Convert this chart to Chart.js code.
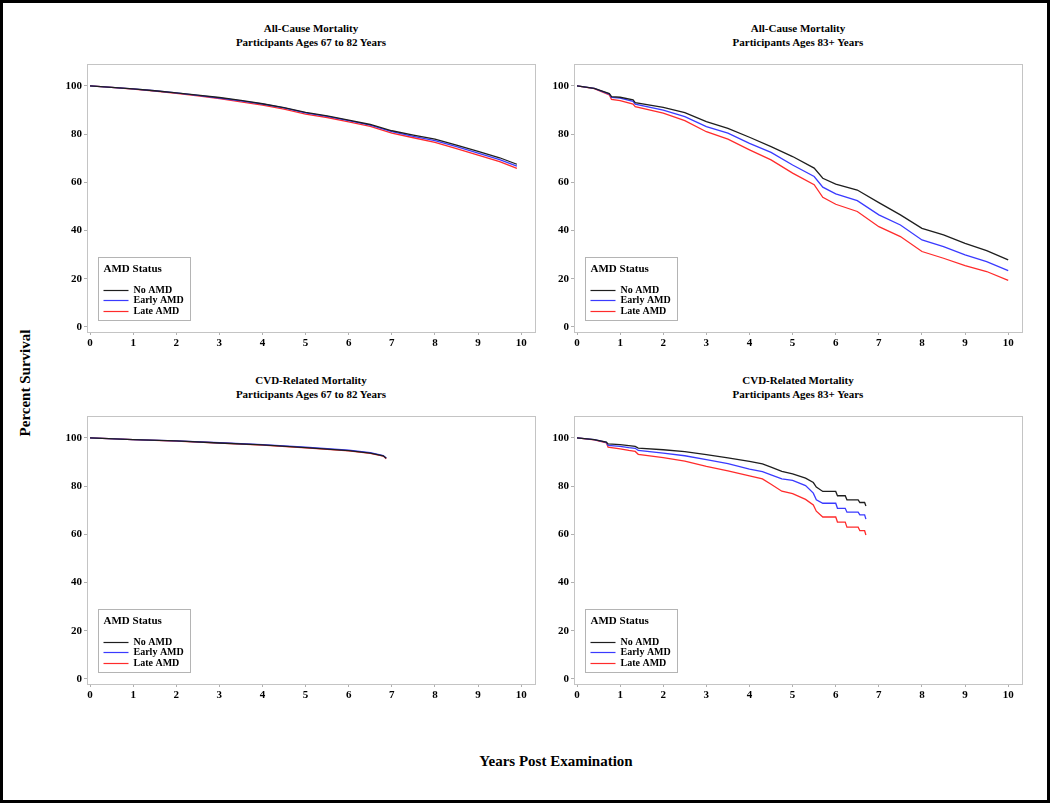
<!DOCTYPE html>
<html>
<head>
<meta charset="utf-8">
<script src="https://cdn.jsdelivr.net/npm/chart.js@4.4.1/dist/chart.umd.min.js"></script>
<style>
	html, body { margin: 0; padding: 0; background: #fff; }
	body { width: 1050px; height: 803px; position: relative; overflow: hidden; font-family: "Liberation Serif", "DejaVu Serif", serif; }
	.frame { position: absolute; left: 0; top: 0; width: 1050px; height: 803px; box-sizing: border-box; border: 3px solid #000; }
	.panel { position: absolute; }
	.ptitle { position: absolute; width: 448px; text-align: center; font-weight: bold; font-size: 11px; line-height: 14px; color: #000; }
	.ylab { position: absolute; left: 25px; top: 383px; transform: translate(-50%, -50%) rotate(-90deg); font-weight: bold; font-size: 15px; white-space: nowrap; }
	.xlab { position: absolute; left: 556px; top: 761px; transform: translate(-50%, -50%); font-weight: bold; font-size: 15px; white-space: nowrap; }
</style>
</head>
<body>
<div class="frame"></div>

<div class="ptitle" style="left:87px; top:21px;">All-Cause Mortality<br>Participants Ages 67 to 82 Years</div>
<div class="ptitle" style="left:574px; top:21px;">All-Cause Mortality<br>Participants Ages 83+ Years</div>
<div class="ptitle" style="left:87px; top:373px;">CVD-Related Mortality<br>Participants Ages 67 to 82 Years</div>
<div class="ptitle" style="left:574px; top:373px;">CVD-Related Mortality<br>Participants Ages 83+ Years</div>

<canvas id="c_ac_young" class="panel" width="505" height="300" style="left:40px; top:55px;"></canvas>
<canvas id="c_ac_old" class="panel" width="505" height="300" style="left:527px; top:55px;"></canvas>
<canvas id="c_cvd_young" class="panel" width="505" height="300" style="left:40px; top:407px;"></canvas>
<canvas id="c_cvd_old" class="panel" width="505" height="300" style="left:527px; top:407px;"></canvas>

<div class="ylab">Percent Survival</div>
<div class="xlab">Years Post Examination</div>

<script>
// Tick labels
const xTicks = [0, 1, 2, 3, 4, 5, 6, 7, 8, 9, 10];
const yTicks = [0, 20, 40, 60, 80, 100];

// Legend groups
const groups = ['No AMD', 'Early AMD', 'Late AMD'];
const groupColors = ['#1e1e1e', '#3a3aff', '#ff2b2b'];

// All-cause mortality, ages 67 to 82 (years, % survival)
const acYoungT     = [0, 0.5, 1, 1.5, 2, 2.5, 3, 3.5, 4, 4.5, 5, 5.5, 6, 6.5, 7, 7.5, 8, 8.5, 9, 9.5, 9.9];
const acYoungNo    = [100, 99.4, 98.8, 98.0, 97.1, 96.2, 95.2, 94.0, 92.6, 91.0, 89.0, 87.6, 85.8, 84.0, 81.4, 79.6, 77.9, 75.4, 72.8, 70.2, 67.5];
const acYoungEarly = [100, 99.4, 98.8, 98.0, 97.1, 96.1, 95.0, 93.8, 92.5, 90.9, 88.8, 87.4, 85.6, 83.7, 81.0, 79.1, 77.3, 74.8, 72.1, 69.4, 66.7];
const acYoungLate  = [100, 99.4, 98.7, 97.9, 96.9, 95.9, 94.7, 93.4, 92.0, 90.4, 88.3, 86.9, 85.1, 83.2, 80.4, 78.5, 76.6, 74.0, 71.3, 68.6, 65.8];

// All-cause mortality, ages 83+
const acOldT     = [0, 0.4, 0.75, 0.8, 1, 1.3, 1.35, 2, 2.5, 3, 3.5, 4, 4.5, 5, 5.5, 5.7, 6, 6.5, 7, 7.5, 8, 8.5, 9, 9.5, 10];
const acOldNo    = [100, 99.0, 96.8, 95.6, 95.3, 94.2, 93.1, 91.1, 88.9, 85.2, 82.4, 78.7, 74.8, 70.7, 65.9, 61.7, 59.3, 56.8, 51.6, 46.5, 40.9, 38.2, 34.7, 31.7, 27.8];
const acOldEarly = [100, 99.0, 96.6, 95.2, 94.9, 93.6, 92.4, 90.0, 87.3, 83.1, 80.4, 76.2, 72.4, 67.2, 62.4, 58.0, 55.2, 52.4, 46.5, 42.3, 36.1, 33.3, 29.9, 27.1, 23.4];
const acOldLate  = [100, 98.9, 96.3, 94.4, 93.9, 92.5, 91.4, 88.7, 85.6, 81.0, 77.9, 73.5, 69.3, 63.8, 59.0, 53.8, 50.9, 47.9, 41.6, 37.5, 31.3, 28.5, 25.4, 23.0, 19.3];

// CVD-related mortality, ages 67 to 82
const cvdYoungT     = [0, 1, 2, 3, 4, 5, 6, 6.5, 6.8, 6.87];
const cvdYoungNo    = [100, 99.3, 98.75, 97.9, 97.1, 96.0, 94.7, 93.7, 92.6, 91.6];
const cvdYoungEarly = [100, 99.3, 98.8, 98.0, 97.2, 96.2, 94.9, 93.9, 92.7, 91.7];
const cvdYoungLate  = [100, 99.3, 98.7, 97.9, 97.0, 95.9, 94.6, 93.6, 92.5, 91.4];

// CVD-related mortality, ages 83+ (flat parts near the end kept as pairs)
const cvdOldT     = [0, 0.4, 0.68, 0.72, 1, 1.2, 1.35, 1.42, 2, 2.5, 3, 3.5, 4, 4.3, 4.5, 4.75, 5, 5.3, 5.48, 5.55, 5.7, 6.0, 6.04, 6.22, 6.26, 6.52, 6.56, 6.67, 6.7];
const cvdOldNo    = [100, 99.3, 98.3, 97.5, 97.2, 96.8, 96.5, 95.8, 95.1, 94.3, 93.1, 91.7, 90.3, 89.2, 87.9, 86.1, 85.1, 83.3, 81.5, 79.6, 77.8, 77.8, 76.0, 76.0, 74.3, 74.3, 73.2, 73.2, 71.8];
const cvdOldEarly = [100, 99.3, 98.2, 96.9, 96.5, 96.0, 95.7, 94.8, 93.7, 92.6, 91.0, 89.3, 87.1, 86.0, 84.7, 83.0, 82.4, 80.2, 77.1, 74.3, 72.9, 72.9, 70.8, 70.8, 69.2, 69.2, 68.1, 68.1, 66.3];
const cvdOldLate  = [100, 99.2, 98.0, 96.2, 95.5, 94.8, 94.4, 93.2, 91.8, 90.4, 88.2, 86.3, 84.3, 83.0, 80.8, 77.9, 76.9, 74.5, 72.2, 69.6, 67.2, 67.2, 65.1, 65.1, 63.0, 63.0, 61.5, 61.5, 59.7];

const serif = '"Liberation Serif", "DejaVu Serif", serif';

// gray box around the plot wall + AMD legend in bottom-left corner
const wallAndLegend = {
	id: 'wallAndLegend',
	afterDatasetsDraw(chart) {
		const ctx = chart.ctx,
			a = chart.chartArea;
		ctx.save();
		ctx.strokeStyle = '#c4c4c4';
		ctx.lineWidth = 1;
		ctx.strokeRect(Math.round(a.left) + 0.5, Math.round(a.top) + 0.5, Math.round(a.right - a.left), Math.round(a.bottom - a.top));
		// legend box
		const bx = Math.round(a.left) + 11.5,
			bw = 92, bh = 63,
			by = Math.round(a.bottom) - 12 - bh + 0.5;
		ctx.fillStyle = '#fff';
		ctx.fillRect(bx, by, bw, bh);
		ctx.strokeStyle = '#b4b4b4';
		ctx.strokeRect(bx, by, bw, bh);
		ctx.fillStyle = '#000';
		ctx.textBaseline = 'middle';
		ctx.font = `bold 11px ${serif}`;
		ctx.fillText('AMD Status', bx + 5, by + 12);
		const rows = [32, 42, 53];
		ctx.font = `bold 10px ${serif}`;
		chart.data.datasets.forEach((ds, i) => {
			const y = Math.round(by + rows[i]) + 0.5;
			ctx.strokeStyle = ds.borderColor;
			ctx.lineWidth = 1.2;
			ctx.beginPath();
			ctx.moveTo(bx + 5, y);
			ctx.lineTo(bx + 30, y);
			ctx.stroke();
			ctx.fillStyle = '#000';
			ctx.fillText(ds.label, bx + 35, y);
		});
		ctx.restore();
	}
};

function makeChart(id, times, series) {
	const datasets = series.map((vals, i) => ({
		label: groups[i],
		data: vals.map((v, j) => ({x: times[j], y: v})),
		borderColor: groupColors[i],
		borderWidth: 1.3,
		pointRadius: 0,
		tension: 0
	}));
	const tickFont = {family: serif, size: 11, weight: 'bold'};
	new Chart(document.getElementById(id), {
		type: 'line',
		data: {datasets: datasets},
		options: {
			responsive: false,
			devicePixelRatio: 1,
			animation: false,
			layout: {padding: {top: 9, right: 10, left: 0, bottom: 0}},
			scales: {
				x: {
					type: 'linear',
					min: -0.07,
					max: 10.32,
					afterBuildTicks: (s) => { s.ticks = xTicks.map((v) => ({value: v})); },
					afterFit: (s) => { s.height = 23; },
					ticks: {color: '#000', font: tickFont, padding: 2, maxRotation: 0, autoSkip: false},
					grid: {display: true, drawOnChartArea: false, drawTicks: true, tickLength: 3, color: '#b0b0b0'},
					border: {display: true, color: '#c4c4c4'}
				},
				y: {
					min: -2.1,
					max: 109.1,
					afterBuildTicks: (s) => { s.ticks = yTicks.map((v) => ({value: v})); },
					afterFit: (s) => { s.width = 47; },
					ticks: {color: '#000', font: tickFont, padding: 2},
					grid: {display: true, drawOnChartArea: false, drawTicks: true, tickLength: 3, color: '#b0b0b0'},
					border: {display: true, color: '#c4c4c4'}
				}
			},
			plugins: {
				legend: {display: false},
				tooltip: {enabled: false}
			}
		},
		plugins: [wallAndLegend]
	});
}

makeChart('c_ac_young', acYoungT, [acYoungNo, acYoungEarly, acYoungLate]);
makeChart('c_ac_old', acOldT, [acOldNo, acOldEarly, acOldLate]);
makeChart('c_cvd_young', cvdYoungT, [cvdYoungNo, cvdYoungEarly, cvdYoungLate]);
makeChart('c_cvd_old', cvdOldT, [cvdOldNo, cvdOldEarly, cvdOldLate]);
</script>
</body>
</html>
